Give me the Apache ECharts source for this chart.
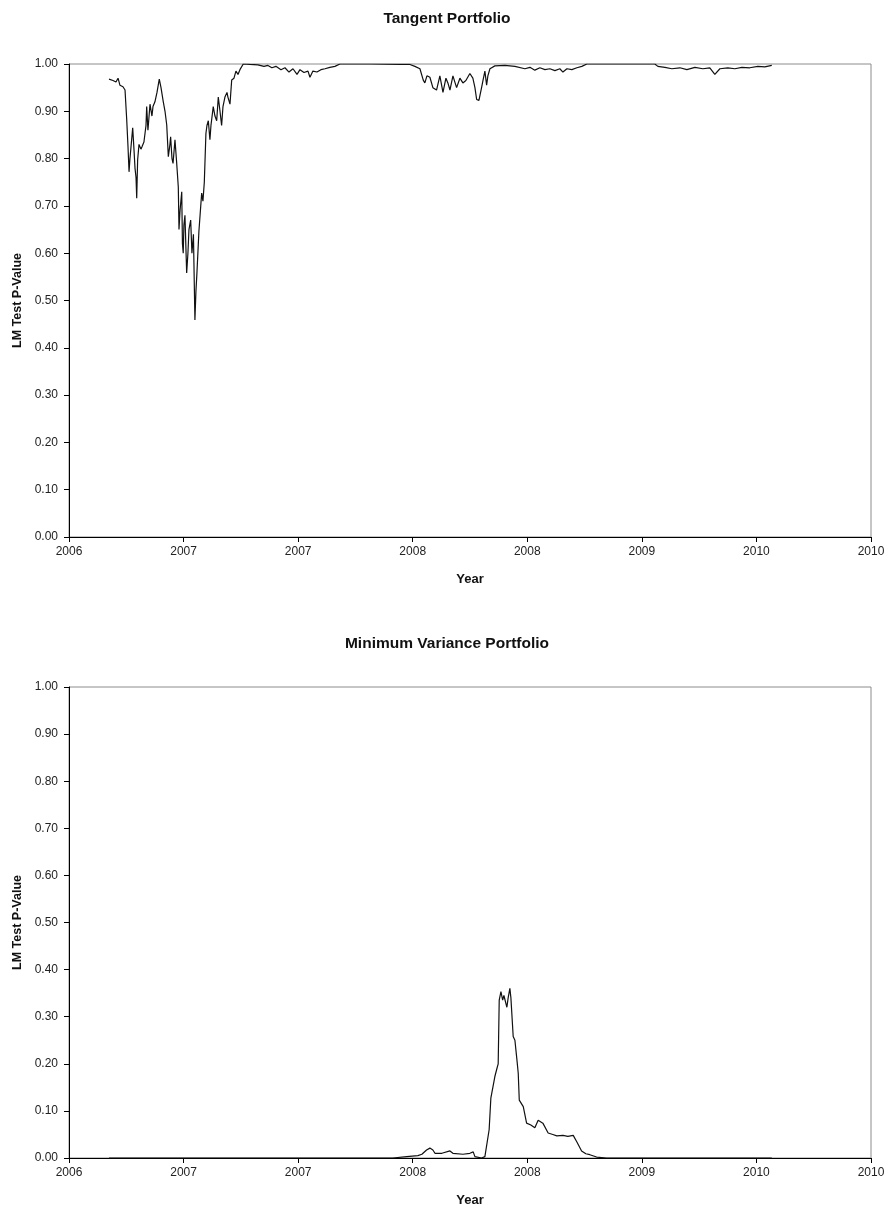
<!DOCTYPE html>
<html>
<head>
<meta charset="utf-8">
<script src="https://cdn.jsdelivr.net/npm/echarts@6/dist/echarts.min.js"></script>
<style>
html,body{margin:0;padding:0;background:#fff;}
#c{width:888px;height:1210px;}
</style>
</head>
<body>
<div id="c"></div>
<script>
// x positions are in axis-tick units (0..7), labelled by xTickLabels
var xTickLabels = ["2006","2007","2007","2008","2008","2009","2010","2010"];

var tangentX = [0.349,0.384,0.410,0.428,0.445,0.471,0.489,0.503,0.515,0.524,0.532,0.541,0.556,0.567,0.576,0.585,0.591,0.599,0.611,0.628,0.637,0.654,0.672,0.678,0.689,0.707,0.724,0.733,0.750,0.768,0.788,0.803,0.823,0.838,0.853,0.867,0.881,0.887,0.899,0.908,0.925,0.940,0.954,0.960,0.969,0.984,0.990,0.997,1.003,1.012,1.027,1.038,1.047,1.062,1.073,1.086,1.099,1.108,1.117,1.134,1.158,1.169,1.181,1.195,1.204,1.216,1.230,1.239,1.259,1.274,1.289,1.303,1.318,1.332,1.344,1.361,1.379,1.387,1.405,1.420,1.440,1.457,1.475,1.492,1.521,1.579,1.649,1.702,1.736,1.771,1.806,1.850,1.885,1.920,1.955,1.990,2.016,2.051,2.086,2.103,2.129,2.164,2.199,2.234,2.277,2.321,2.365,2.627,2.888,2.976,3.019,3.063,3.092,3.106,3.124,3.150,3.176,3.208,3.220,3.237,3.264,3.290,3.307,3.325,3.351,3.383,3.412,3.438,3.464,3.499,3.525,3.543,3.558,3.578,3.601,3.613,3.630,3.645,3.656,3.674,3.717,3.805,3.892,3.979,4.023,4.066,4.110,4.154,4.197,4.241,4.284,4.311,4.346,4.389,4.433,4.476,4.520,4.808,5.113,5.140,5.201,5.262,5.332,5.393,5.463,5.532,5.593,5.637,5.681,5.750,5.812,5.873,5.942,6.012,6.073,6.134];
var tangentP = [0.968,0.965,0.962,0.970,0.955,0.952,0.945,0.886,0.825,0.772,0.800,0.797,0.865,0.820,0.780,0.760,0.716,0.797,0.830,0.820,0.825,0.835,0.870,0.910,0.860,0.915,0.890,0.910,0.920,0.940,0.968,0.950,0.920,0.900,0.871,0.804,0.830,0.846,0.800,0.790,0.840,0.790,0.740,0.650,0.690,0.730,0.620,0.600,0.660,0.680,0.558,0.600,0.650,0.670,0.600,0.640,0.459,0.520,0.560,0.647,0.727,0.710,0.750,0.853,0.870,0.880,0.840,0.870,0.910,0.890,0.880,0.930,0.900,0.870,0.910,0.930,0.940,0.930,0.915,0.966,0.970,0.985,0.978,0.988,1.000,0.999,0.998,0.995,0.997,0.992,0.995,0.988,0.992,0.983,0.990,0.978,0.988,0.982,0.985,0.972,0.985,0.983,0.988,0.990,0.993,0.995,1.000,1.000,0.999,0.999,0.995,0.990,0.966,0.960,0.975,0.972,0.950,0.945,0.941,0.975,0.940,0.970,0.960,0.945,0.975,0.950,0.970,0.960,0.965,0.980,0.970,0.950,0.925,0.923,0.950,0.965,0.985,0.955,0.975,0.990,0.996,0.997,0.995,0.990,0.993,0.987,0.992,0.988,0.990,0.986,0.990,0.983,0.990,0.988,0.992,0.995,1.000,1.000,1.000,0.995,0.993,0.990,0.992,0.988,0.993,0.990,0.992,0.978,0.990,0.992,0.990,0.993,0.992,0.995,0.994,0.997];

var minVarX = [0.349,2.540,2.557,2.575,2.827,2.947,3.045,3.080,3.121,3.150,3.176,3.194,3.255,3.325,3.351,3.438,3.499,3.528,3.543,3.601,3.630,3.647,3.667,3.682,3.717,3.735,3.746,3.755,3.770,3.785,3.796,3.822,3.833,3.848,3.857,3.877,3.892,3.909,3.921,3.930,3.965,3.994,4.031,4.066,4.095,4.110,4.136,4.182,4.223,4.258,4.311,4.354,4.401,4.433,4.474,4.511,4.546,4.605,4.692,6.134];
var minVarP = [0.000,0.000,0.003,0.000,0.000,0.003,0.005,0.008,0.017,0.021,0.017,0.010,0.010,0.015,0.010,0.008,0.010,0.013,0.003,0.000,0.003,0.003,0.060,0.127,0.173,0.190,0.200,0.335,0.353,0.335,0.345,0.320,0.340,0.360,0.340,0.258,0.250,0.210,0.180,0.123,0.109,0.074,0.070,0.064,0.080,0.078,0.074,0.053,0.050,0.047,0.048,0.046,0.048,0.034,0.015,0.009,0.007,0.002,0.000,0.000];

var titles = ["Tangent Portfolio","Minimum Variance Portfolio"];
var xName = "Year";
var yName = "LM Test P-Value";

function zip(a,b){var r=[];for(var i=0;i<a.length;i++){r.push([a[i],b[i]]);}return r;}

var FONT = "Liberation Sans, Arial, sans-serif";
var grids = [
  {left:69, right:17, top:64, height:473},
  {left:69, right:17, top:687, height:471}
];

function xAxis(idx){
  return {
    type:'value', gridIndex:idx, min:0, max:7, interval:1,
    name:xName, nameLocation:'middle', nameGap:36,
    nameTextStyle:{fontFamily:FONT,fontWeight:'bold',fontSize:13,color:'#111'},
    axisLine:{show:true,lineStyle:{color:'#000',width:1}},
    axisTick:{show:true,length:5,lineStyle:{color:'#000'}},
    splitLine:{show:false},
    axisLabel:{fontFamily:FONT,fontSize:12,color:'#222',margin:9,
      formatter:function(v){return xTickLabels[Math.round(v)];}}
  };
}
function yAxis(idx){
  return {
    type:'value', gridIndex:idx, min:0, max:1, interval:0.1,
    name:yName, nameLocation:'middle', nameGap:34, nameRotate:90,
    nameTextStyle:{fontFamily:FONT,fontWeight:'bold',fontSize:12.5,color:'#111'},
    axisLine:{show:true,lineStyle:{color:'#000',width:1}},
    axisTick:{show:true,length:5,lineStyle:{color:'#000'}},
    splitLine:{show:false},
    axisLabel:{fontFamily:FONT,fontSize:12,color:'#222',margin:11,
      formatter:function(v){return v.toFixed(2);}}
  };
}

var chart = echarts.init(document.getElementById('c'), null, {renderer:'canvas'});
chart.setOption({
  animation:false,
  backgroundColor:'#fff',
  title:[
    {text:titles[0], left:442, top:6, textAlign:'center',
     textStyle:{fontFamily:FONT,fontWeight:'bold',fontSize:15.5,color:'#111'}},
    {text:titles[1], left:442, top:631, textAlign:'center',
     textStyle:{fontFamily:FONT,fontWeight:'bold',fontSize:15.5,color:'#111'}}
  ],
  grid: grids.map(function(g){return Object.assign({show:true,borderColor:'#8c8c8c',borderWidth:1,backgroundColor:'#fff'},g);}),
  xAxis:[xAxis(0),xAxis(1)],
  yAxis:[yAxis(0),yAxis(1)],
  series:[
    {type:'line', xAxisIndex:0, yAxisIndex:0, data:zip(tangentX,tangentP),
     showSymbol:false, lineStyle:{color:'#111',width:1.2}},
    {type:'line', xAxisIndex:1, yAxisIndex:1, data:zip(minVarX,minVarP),
     showSymbol:false, lineStyle:{color:'#111',width:1.2}}
  ]
});
</script>
</body>
</html>
